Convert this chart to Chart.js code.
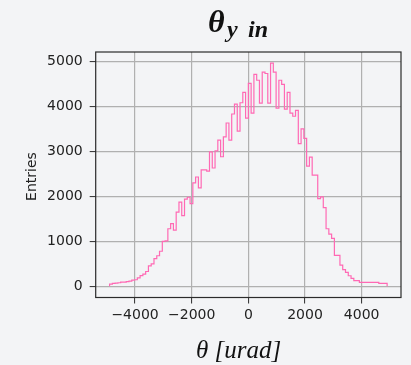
<!DOCTYPE html>
<html>
<head>
<meta charset="utf-8">
<title>theta y in</title>
<script src="https://cdn.jsdelivr.net/npm/chart.js@4.4.1/dist/chart.umd.min.js"></script>
<style>
  html, body { margin: 0; padding: 0; background: #f3f4f6; }
  #chart { display: block; }
</style>
</head>
<body>
<canvas id="chart" width="411" height="365"></canvas>
<script>
// Histogram: 100 bins between -4900 and 4900 urad
const binStart = -4900;
const binWidth = 98;

// Entries per bin
const entries = [
  50, 65, 73, 80, 95, 95, 105, 117, 140, 146,
  190, 240, 270, 330, 457, 500, 615, 680, 780, 1000,
  1010, 1280, 1396, 1250, 1650, 1870, 1570, 1940, 1980, 1840,
  2300, 2430, 2190, 2590, 2590, 2560, 2990, 2630, 3010, 3250,
  2880, 3320, 3630, 3250, 3830, 4050, 3450, 4080, 4310, 3740,
  4510, 3850, 4710, 4580, 4070, 4760, 4730, 4070, 4960, 4760,
  3960, 4580, 4490, 3940, 4310, 3850, 3780, 3910, 3170, 3500,
  3290, 2670, 2870, 2470, 2470, 1950, 1990, 1750, 1280, 1160,
  1065, 690, 690, 470, 370, 310, 235, 175, 125, 125,
  90, 90, 90, 90, 90, 90, 90, 65, 65, 65
];

const xTicks = [-4000, -2000, 0, 2000, 4000];
const yTicks = [0, 1000, 2000, 3000, 4000, 5000];

// Step outline like a matplotlib 'step' histogram
const points = [{ x: binStart, y: 0 }];
entries.forEach((n, i) => points.push({ x: binStart + i * binWidth, y: n }));
const binEnd = binStart + entries.length * binWidth;
points.push({ x: binEnd, y: entries[entries.length - 1] });
points.push({ x: binEnd, y: 0 });

const textColor = "#222222";
const gridColor = "#b0b0b0";

// Background, axes frame and the labels
const decorPlugin = {
  id: "decor",
  beforeDraw(chart) {
    const ctx = chart.ctx;
    ctx.save();
    ctx.fillStyle = "#f3f4f6";
    ctx.fillRect(0, 0, chart.width, chart.height);
    ctx.restore();
  },
  afterDraw(chart) {
    const ctx = chart.ctx;
    const a = chart.chartArea;
    ctx.save();
    ctx.strokeStyle = "#2b2b2b";
    ctx.lineWidth = 1.2;
    ctx.strokeRect(a.left, a.top, a.right - a.left, a.bottom - a.top);

    // title theta_{y in}
    ctx.fillStyle = "#111111";
    ctx.textBaseline = "alphabetic";
    ctx.textAlign = "left";
    ctx.font = "bold italic 32px 'Liberation Serif'";
    ctx.fillText("θ", 208, 32);
    ctx.font = "bold italic 24px 'Liberation Serif'";
    ctx.fillText("y", 227, 37);
    ctx.fillText("in", 248, 37);

    // x axis label
    ctx.font = "italic 25px 'Liberation Serif'";
    ctx.textAlign = "center";
    ctx.fillText("θ [urad]", 238.5, 358);

    // y axis label
    ctx.font = "14px 'DejaVu Sans'";
    ctx.fillStyle = textColor;
    ctx.translate(32, 176.5);
    ctx.rotate(-Math.PI / 2);
    ctx.textBaseline = "middle";
    ctx.fillText("Entries", 0, 0);
    ctx.restore();
  }
};

Chart.defaults.font.family = "'DejaVu Sans'";
Chart.defaults.font.size = 14;
Chart.defaults.color = textColor;

new Chart(document.getElementById("chart"), {
  type: "line",
  data: {
    datasets: [{
      data: points,
      stepped: "before",
      borderColor: "#ff69b4",
      borderWidth: 1.2,
      pointRadius: 0,
      fill: false,
      tension: 0
    }]
  },
  options: {
    responsive: false,
    animation: false,
    layout: { padding: { left: 0, right: 10, top: 52, bottom: 0 } },
    plugins: {
      legend: { display: false },
      tooltip: { enabled: false },
      title: { display: false }
    },
    scales: {
      x: {
        type: "linear",
        min: -5390,
        max: 5390,
        afterBuildTicks: s => { s.ticks = xTicks.map(v => ({ value: v })); },
        afterFit: s => { s.height = 67.5; },
        grid: { color: gridColor, lineWidth: 1.2, tickLength: 6, tickColor: "#2b2b2b", tickWidth: 1 },
        border: { display: false },
        ticks: {
          padding: 3,
          maxRotation: 0,
          callback: v => String(v).replace("-", "\u2212")
        }
      },
      y: {
        type: "linear",
        min: -248,
        max: 5208,
        afterBuildTicks: s => { s.ticks = yTicks.map(v => ({ value: v })); },
        afterFit: s => { s.width = 95.7; },
        grid: { color: gridColor, lineWidth: 1.2, tickLength: 6, tickColor: "#2b2b2b", tickWidth: 1 },
        border: { display: false },
        ticks: { padding: 7, callback: v => String(v) }
      }
    }
  },
  plugins: [decorPlugin]
});
</script>
</body>
</html>
